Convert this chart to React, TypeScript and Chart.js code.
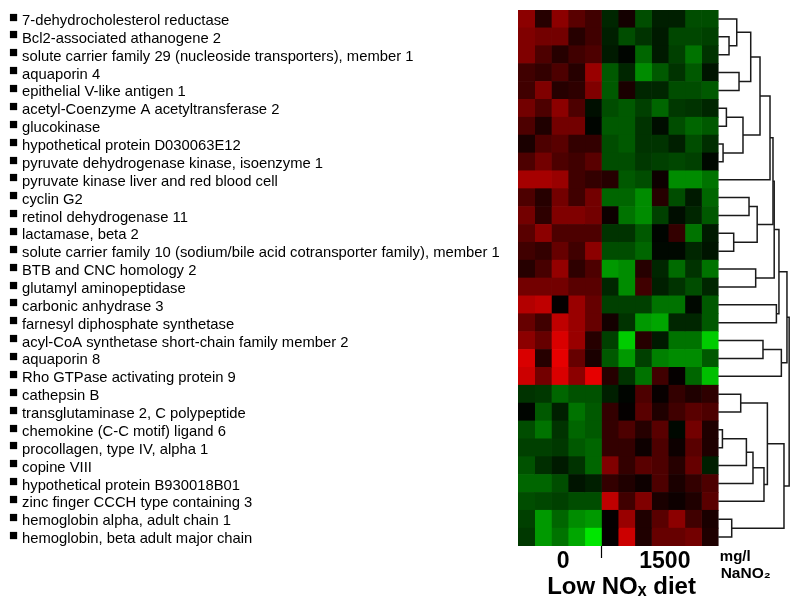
import React, { useEffect, useRef } from 'react';
import { Chart, registerables } from 'chart.js';

Chart.register(...registerables);

// ---------- data ----------
const genes: string[] = [
  '7-dehydrocholesterol reductase',
  'Bcl2-associated athanogene 2',
  'solute carrier family 29 (nucleoside transporters), member 1',
  'aquaporin 4',
  'epithelial V-like antigen 1',
  'acetyl-Coenzyme A acetyltransferase 2',
  'glucokinase',
  'hypothetical protein D030063E12',
  'pyruvate dehydrogenase kinase, isoenzyme 1',
  'pyruvate kinase liver and red blood cell',
  'cyclin G2',
  'retinol dehydrogenase 11',
  'lactamase, beta 2',
  'solute carrier family 10 (sodium/bile acid cotransporter family), member 1',
  'BTB and CNC homology 2',
  'glutamyl aminopeptidase',
  'carbonic anhydrase 3',
  'farnesyl diphosphate synthetase',
  'acyl-CoA synthetase short-chain family member 2',
  'aquaporin 8',
  'Rho GTPase activating protein 9',
  'cathepsin B',
  'transglutaminase 2, C polypeptide',
  'chemokine (C-C motif) ligand 6',
  'procollagen, type IV, alpha 1',
  'copine VIII',
  'hypothetical protein B930018B01',
  'zinc finger CCCH type containing 3',
  'hemoglobin alpha, adult chain 1',
  'hemoglobin, beta adult major chain',
];

// dose groups (mg/l NaNO2) and number of samples (columns) per group
const doseGroups: string[] = ['0', '1500'];
const samplesPerGroup: number[] = [5, 7];
const doseUnitLines: string[] = ['mg/l', 'NaNO\u2082'];
const dietLabel = 'Low NO\u2093 diet';
const bullet = '\u25A0';

// relative expression (positive = red / up, negative = green / down)
const expression: number[][] = [
  [0.55, 0.15, 0.55, 0.35, 0.25, -0.15, 0.08, -0.3, -0.12, -0.12, -0.3, -0.3],
  [0.5, 0.45, 0.45, 0.15, 0.25, -0.12, -0.3, -0.2, -0.1, -0.28, -0.28, -0.25],
  [0.5, 0.3, 0.15, 0.25, 0.3, -0.1, -0.02, -0.4, -0.1, -0.25, -0.45, -0.2],
  [0.25, 0.2, 0.3, 0.15, 0.6, -0.35, -0.15, -0.55, -0.35, -0.2, -0.35, -0.08],
  [0.25, 0.5, 0.15, 0.18, 0.5, -0.35, 0.1, -0.15, -0.15, -0.3, -0.3, -0.35],
  [0.45, 0.3, 0.55, 0.3, -0.06, -0.3, -0.35, -0.25, -0.4, -0.22, -0.2, -0.15],
  [0.3, 0.12, 0.45, 0.45, -0.02, -0.35, -0.35, -0.2, -0.05, -0.3, -0.4, -0.35],
  [0.1, 0.3, 0.35, 0.2, 0.2, -0.3, -0.35, -0.2, -0.2, -0.12, -0.3, -0.18],
  [0.3, 0.45, 0.3, 0.25, 0.35, -0.3, -0.3, -0.22, -0.25, -0.28, -0.25, -0.03],
  [0.65, 0.65, 0.6, 0.25, 0.2, 0.15, -0.35, -0.3, 0.05, -0.55, -0.55, -0.45],
  [0.3, 0.15, 0.45, 0.25, 0.45, -0.4, -0.4, -0.55, 0.15, -0.3, -0.1, -0.4],
  [0.45, 0.18, 0.5, 0.5, 0.45, 0.05, -0.45, -0.55, -0.25, -0.05, -0.15, -0.35],
  [0.35, 0.55, 0.3, 0.3, 0.3, -0.2, -0.2, -0.35, -0.02, 0.2, -0.45, -0.1],
  [0.25, 0.2, 0.4, 0.25, 0.55, -0.3, -0.3, -0.4, -0.03, -0.03, -0.15, -0.08],
  [0.15, 0.28, 0.58, 0.18, 0.3, -0.6, -0.55, 0.15, -0.15, -0.42, -0.2, -0.45],
  [0.45, 0.45, 0.45, 0.35, 0.35, -0.15, -0.55, 0.25, -0.12, -0.2, -0.3, -0.15],
  [0.7, 0.75, 0.02, 0.6, 0.4, -0.25, -0.25, -0.25, -0.45, -0.45, -0.03, -0.35],
  [0.4, 0.25, 0.75, 0.6, 0.4, 0.08, -0.2, -0.6, -0.65, -0.15, -0.15, -0.35],
  [0.55, 0.4, 0.85, 0.6, 0.15, -0.25, -0.8, 0.15, -0.1, -0.45, -0.45, -0.8],
  [0.85, 0.15, 0.9, 0.4, 0.1, -0.35, -0.6, -0.25, -0.5, -0.55, -0.55, -0.35],
  [0.8, 0.45, 0.85, 0.55, 0.9, 0.15, -0.2, -0.45, 0.25, 0.02, -0.4, -0.75],
  [-0.2, -0.22, -0.4, -0.32, -0.32, -0.12, -0.02, 0.3, 0.03, 0.2, 0.12, 0.18],
  [-0.02, -0.35, -0.12, -0.45, -0.35, 0.2, 0.02, 0.35, 0.12, 0.25, 0.35, 0.3],
  [-0.3, -0.45, -0.2, -0.4, -0.35, 0.2, 0.3, 0.15, 0.35, -0.03, 0.45, 0.12],
  [-0.25, -0.25, -0.22, -0.35, -0.4, 0.2, 0.2, 0.05, 0.3, 0.05, 0.35, 0.12],
  [-0.32, -0.18, -0.1, -0.2, -0.4, 0.5, 0.2, 0.35, 0.3, 0.15, 0.4, -0.12],
  [-0.4, -0.4, -0.3, -0.08, -0.12, 0.2, 0.12, 0.05, 0.3, 0.1, 0.2, 0.3],
  [-0.3, -0.28, -0.25, -0.3, -0.3, 0.75, 0.25, 0.5, 0.1, 0.05, 0.12, 0.35],
  [-0.25, -0.6, -0.4, -0.55, -0.6, 0.02, 0.6, 0.12, 0.35, 0.55, 0.25, 0.1],
  [-0.22, -0.6, -0.45, -0.65, -0.9, 0.02, 0.8, 0.12, 0.4, 0.4, 0.45, 0.12],
];

// gene dendrogram: [childA, childB, height]; leaves 0..29, merged clusters 30..
const linkage: [number, number, number][] = [
  [1, 2, 0.152],
  [0, 30, 0.261],
  [3, 4, 0.293],
  [31, 32, 0.458],
  [5, 6, 0.115],
  [7, 8, 0.068],
  [34, 35, 0.349],
  [33, 36, 0.589],
  [37, 9, 0.73],
  [10, 11, 0.434],
  [12, 13, 0.218],
  [39, 40, 0.549],
  [38, 41, 0.772],
  [14, 15, 0.528],
  [42, 43, 0.789],
  [16, 17, 0.82],
  [44, 45, 0.856],
  [18, 19, 0.631],
  [47, 20, 0.89],
  [46, 48, 0.969],
  [21, 22, 0.317],
  [23, 24, 0.059],
  [51, 25, 0.397],
  [52, 26, 0.49],
  [53, 27, 0.645],
  [50, 54, 0.693],
  [28, 29, 0.19],
  [55, 56, 0.927],
  [49, 57, 1.0],
];

// ---------- styling ----------
const FONT = '"Liberation Sans", Arial, Helvetica, sans-serif';
const DENDRO_SPAN = 4.25; // width of dendrogram in column units
const X_MAX = 16.6;

function cellColor(v: number): string {
  const c = Math.round(Math.min(1, Math.abs(v)) * 255);
  return v >= 0 ? `rgb(${c},0,0)` : `rgb(0,${c},0)`;
}

export default function App() {
  const ref = useRef<HTMLCanvasElement | null>(null);

  useEffect(() => {
    if (!ref.current) return;
    const nCols = samplesPerGroup.reduce((a, b) => a + b, 0);

    // heatmap: one stacked horizontal bar dataset per sample column
    const barSets: any[] = [];
    for (let c = 0; c < nCols; c++) {
      barSets.push({
        type: 'bar',
        indexAxis: 'y',
        xAxisID: 'x',
        yAxisID: 'y',
        data: genes.map(() => 1),
        backgroundColor: expression.map((row) => cellColor(row[c])),
        borderWidth: 0,
        barPercentage: 1,
        categoryPercentage: 1,
        stack: 'heat',
        order: 2,
      });
    }

    // dendrogram segments
    const nodeY: number[] = genes.map((_, i) => i);
    const nodeH: number[] = genes.map(() => 0);
    const lineSets: any[] = [];
    const hx = (h: number) => nCols + h * DENDRO_SPAN;
    linkage.forEach(([a, b, h]) => {
      const ya = nodeY[a];
      const yb = nodeY[b];
      lineSets.push({
        type: 'line',
        indexAxis: 'x',
        xAxisID: 'x',
        yAxisID: 'yd',
        data: [
          { x: hx(nodeH[a]), y: ya },
          { x: hx(h), y: ya },
          { x: hx(h), y: yb },
          { x: hx(nodeH[b]), y: yb },
        ],
        borderColor: '#1a1a1a',
        borderWidth: 1.5,
        pointRadius: 0,
        fill: false,
        tension: 0,
        clip: false,
        order: 1,
      });
      nodeY.push((ya + yb) / 2);
      nodeH.push(h);
    });

    // bottom axis labels
    const g0End = samplesPerGroup[0];
    const xTicks: { value: number; label: string | string[]; size: number; lh: number }[] = [
      { value: g0End * 0.54, label: doseGroups[0], size: 23, lh: 1.1 },
      { value: g0End, label: '', size: 23, lh: 1.1 },
      { value: nCols * 0.517, label: ['', dietLabel], size: 24, lh: 1.05 },
      { value: g0End + samplesPerGroup[1] * 0.543, label: doseGroups[1], size: 23, lh: 1.1 },
      { value: nCols + 1.02, label: doseUnitLines[0], size: 15, lh: 1.05 },
      { value: nCols + 1.64, label: ['', doseUnitLines[1]], size: 15.5, lh: 1.05 },
    ];

    const chart = new Chart(ref.current, {
      type: 'bar',
      data: {
        labels: genes,
        datasets: [...lineSets, ...barSets],
      },
      options: {
        responsive: false,
        animation: false,
        devicePixelRatio: 1,
        layout: { padding: { left: 9, top: 10, right: 5, bottom: 0 } },
        plugins: { legend: { display: false }, tooltip: { enabled: false }, title: { display: false } },
        scales: {
          x: {
            type: 'linear',
            position: 'bottom',
            min: 0,
            max: X_MAX,
            stacked: true,
            offset: false,
            border: { display: false },
            grid: {
              offset: false,
              drawOnChartArea: false,
              drawTicks: true,
              tickLength: 12,
              tickWidth: 1.2,
              tickColor: (ctx: any) => (ctx.tick && ctx.tick.value === g0End ? '#000' : 'rgba(0,0,0,0)'),
            },
            afterBuildTicks: (scale: any) => {
              scale.ticks = xTicks.map((t) => ({ value: t.value }));
            },
            afterFit: (scale: any) => {
              scale.height = 66;
              scale.paddingLeft = 0;
              scale.paddingRight = 0;
              scale.paddingTop = 0;
              scale.paddingBottom = 0;
            },
            ticks: {
              autoSkip: false,
              maxRotation: 0,
              minRotation: 0,
              padding: -8.7,
              color: '#000',
              callback: (_v: any, i: number) => xTicks[i].label,
              font: (ctx: any) => {
                const t = xTicks[ctx.index] || xTicks[0];
                return { family: FONT, size: t.size, weight: 'bold', lineHeight: t.lh };
              },
            },
          },
          yb: {
            type: 'category',
            position: 'left',
            weight: 2,
            labels: genes.map(() => bullet),
            offset: true,
            border: { display: false },
            grid: { display: false },
            afterFit: (scale: any) => {
              scale.width = 13;
              scale.paddingTop = 0;
              scale.paddingBottom = 0;
            },
            ticks: {
              crossAlign: 'far',
              autoSkip: false,
              padding: 0,
              labelOffset: -1.5,
              color: '#000',
              font: { family: FONT, size: 15 },
            },
          },
          y: {
            type: 'category',
            position: 'left',
            weight: 1,
            stacked: true,
            offset: true,
            border: { display: false },
            grid: { display: false },
            afterFit: (scale: any) => {
              scale.width = 496;
              scale.paddingTop = 0;
              scale.paddingBottom = 0;
            },
            ticks: {
              crossAlign: 'far',
              autoSkip: false,
              padding: 0,
              labelOffset: 2,
              color: '#000',
              font: { family: FONT, size: 14.8 },
            },
          },
          yd: {
            type: 'linear',
            display: false,
            min: -0.5,
            max: genes.length - 0.5,
            reverse: true,
          },
        },
      } as any,
    });

    return () => chart.destroy();
  }, []);

  return (
    <div style={{ position: 'absolute', left: 0, top: 0, width: 800, height: 612, background: '#fff' }}>
      <canvas ref={ref} width={800} height={612} style={{ display: 'block' }} />
    </div>
  );
}
